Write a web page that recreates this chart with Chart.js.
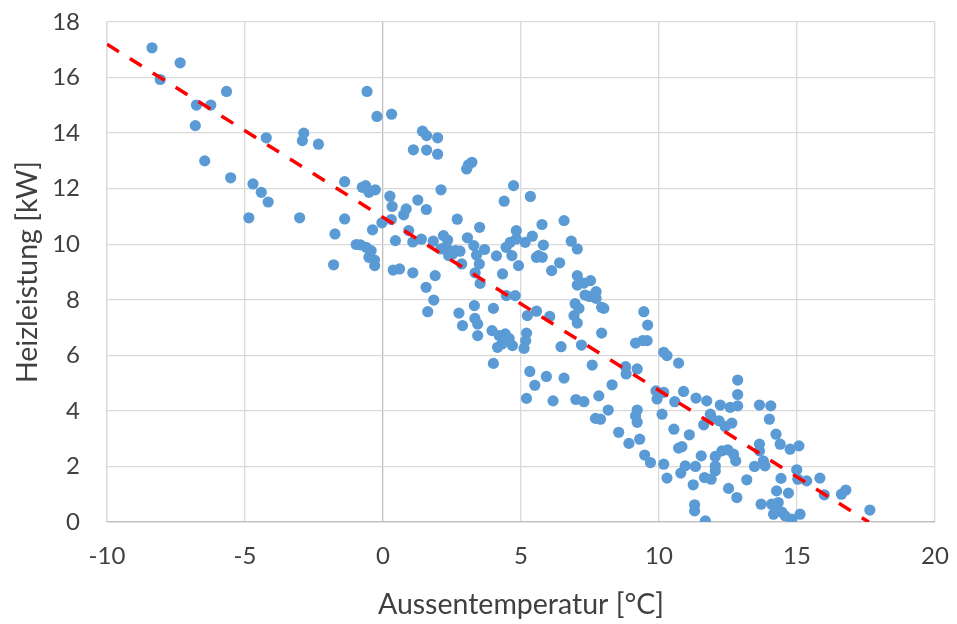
<!DOCTYPE html>
<html>
<head>
<meta charset="utf-8">
<script src="https://cdn.jsdelivr.net/npm/chart.js@4.4.0/dist/chart.umd.min.js"></script>
<style>
  html, body { margin: 0; padding: 0; background: #ffffff; }
</style>
</head>
<body>
<canvas id="myChart" width="957" height="624"></canvas>
<script>
// Aussentemperatur [°C] for each measurement
var tempX = [
  -8.37, -7.35, -8.07, -5.67, -6.76, -6.24, -6.80, -4.23, -6.46, -5.52,
  -4.71, -4.41, -4.16, -4.86, -3.02,
  -0.58, -0.22, 0.31, -2.87, -2.92, -2.34, 1.43, 1.58, 1.98, 1.10,
  1.58, 1.98, -1.39, -0.75, -0.63, -0.51, -0.28, 2.10, 0.25, 0.33,
  1.26, 0.84, 0.75, 1.57, -1.39, -1.74, -0.38, -0.04, 0.30, 0.93,
  0.45, 1.08, 1.39, 1.82, -0.97, -0.82, -0.61, -0.43, -0.51, -0.31,
  -0.30, -1.79, 0.37, 0.60, 1.08, 1.89, 1.56, 1.84, 1.62,
  3.03, 3.10, 3.22, 4.73, 4.39, 5.34, 2.69, 3.50, 6.56, 5.76,
  4.83, 2.19, 2.34, 2.26, 2.43, 2.64, 2.79, 2.38, 2.52, 2.10,
  3.06, 3.29, 3.68, 3.39, 3.49, 3.34, 2.85, 4.11, 4.33, 3.52,
  4.46, 4.61, 4.83, 4.67, 4.91, 5.15, 5.41, 5.81, 5.63, 5.77,
  5.56, 6.40, 6.11, 6.82, 7.04, 7.04, 7.04, 4.47, 4.79, 3.31,
  4.00, 2.75, 2.88, 3.33, 3.43, 3.43, 3.95, 4.21, 4.43, 4.57,
  4.15, 4.31, 4.69, 4.00, 5.23, 5.56, 6.04, 5.20, 5.17, 5.11,
  6.45, 7.04, 6.96, 5.32, 5.50, 5.92, 6.56, 5.20, 6.16, 6.99,
  7.28, 7.52, 7.32, 7.48, 7.72, 7.72, 7.10, 6.92, 7.92, 8.00,
  9.45, 9.59, 7.92, 7.19, 9.15, 9.41, 9.57, 10.17, 10.29, 10.71,
  7.58, 8.79, 8.81, 9.21, 8.30, 7.82, 7.28, 8.16, 7.70, 7.88,
  9.21, 9.15, 9.21, 8.54, 8.91, 9.30, 9.48, 9.69, 10.17, 9.89,
  10.17, 9.93, 10.57, 10.89, 10.11, 10.54, 11.10, 10.71, 10.83, 11.53,
  11.34, 11.73, 11.86, 11.62, 10.95, 11.32,
  12.85, 12.85, 12.22, 12.58, 12.85, 13.64, 14.05, 14.00, 11.89, 12.18,
  12.40, 12.64, 14.24, 14.39, 14.75, 15.07, 13.64, 13.64, 12.04, 12.28,
  12.49, 12.70, 12.78, 12.04, 12.04, 11.65, 11.89, 13.18, 13.46, 13.78,
  13.84, 14.42, 14.99, 15.03, 15.35, 14.26, 14.69, 12.52, 12.82, 13.70,
  14.08, 14.32, 14.26, 14.45, 14.15, 14.57, 14.81, 15.11, 11.68, 11.29,
  11.29, 15.83, 15.99, 16.61, 16.77, 17.64, 10.29, 10.79, 11.24
];

// Heizleistung [kW] for each measurement
var heatY = [
  17.07, 16.53, 15.93, 15.50, 15.01, 15.01, 14.27, 13.83, 13.00, 12.39,
  12.17, 11.87, 11.52, 10.95, 10.95,
  15.50, 14.60, 14.68, 14.00, 13.73, 13.60, 14.07, 13.91, 13.83, 13.40,
  13.39, 13.24, 12.25, 12.05, 12.11, 11.87, 11.96, 11.96, 11.73, 11.36,
  11.59, 11.27, 11.06, 11.25, 10.91, 10.37, 10.52, 10.77, 10.89, 10.49,
  10.13, 10.08, 10.18, 10.11, 9.99, 9.98, 9.89, 9.77, 9.53, 9.43,
  9.23, 9.26, 9.07, 9.11, 8.97, 8.87, 8.45, 7.99, 7.57,
  12.71, 12.86, 12.95, 12.11, 11.55, 11.72, 10.90, 10.61, 10.85, 10.71,
  10.49, 10.31, 10.15, 9.89, 9.77, 9.77, 9.75, 9.59, 9.65, 9.83,
  10.23, 9.95, 9.81, 9.61, 9.29, 8.97, 9.29, 9.58, 8.93, 8.59,
  9.89, 10.07, 10.19, 9.59, 9.23, 10.07, 10.29, 9.97, 9.59, 9.53,
  9.53, 9.33, 9.05, 10.11, 9.83, 8.87, 8.53, 8.15, 8.15, 7.79,
  7.69, 7.52, 7.07, 7.33, 7.13, 6.71, 6.89, 6.71, 6.77, 6.61,
  6.29, 6.41, 6.35, 5.71, 7.43, 7.59, 7.40, 6.80, 6.53, 6.25,
  6.31, 7.16, 7.86, 5.42, 4.92, 5.24, 5.18, 4.45, 4.36, 4.41,
  8.60, 8.69, 8.17, 8.12, 8.29, 8.05, 7.69, 7.43, 7.73, 7.69,
  7.57, 7.09, 6.80, 6.37, 6.44, 6.53, 6.53, 6.11, 5.99, 5.72,
  5.65, 5.59, 5.33, 5.51, 4.94, 4.54, 4.33, 4.03, 3.73, 3.70,
  4.03, 3.82, 3.59, 3.23, 2.83, 2.98, 2.41, 2.14, 2.08, 4.72,
  4.67, 4.43, 4.33, 4.70, 3.88, 3.34, 3.14, 2.66, 2.71, 2.38,
  4.46, 4.36, 3.88, 3.50, 2.02, 2.00,
  5.11, 4.59, 4.21, 4.13, 4.18, 4.21, 4.18, 3.70, 3.77, 3.64,
  3.44, 3.56, 3.16, 2.80, 2.62, 2.74, 2.80, 2.56, 2.36, 2.56,
  2.60, 2.44, 2.20, 2.02, 1.84, 1.60, 1.54, 1.52, 2.00, 2.20,
  2.02, 1.57, 1.88, 1.54, 1.48, 1.12, 1.04, 1.21, 0.88, 0.64,
  0.64, 0.70, 0.40, 0.36, 0.28, 0.22, 0.10, 0.28, 0.04, 0.62,
  0.40, 1.58, 0.98, 1.00, 1.15, 0.43, 1.58, 1.76, 1.34
];

// linear trend line end points
var trendX = [-10, 17.6];
var trendY = [17.2, 0];

var xTicks = [-10, -5, 0, 5, 10, 15, 20];
var yTicks = [0, 2, 4, 6, 8, 10, 12, 14, 16, 18];

function BuildChart() {
    var points = tempX.map(function (x, i) {
        return { x: x, y: heatY[i] };
    });
    var trend = trendX.map(function (x, i) {
        return { x: x, y: trendY[i] };
    });

    var gridColor = function (ctx) {
        return (ctx.tick && ctx.tick.value === 0) ? '#bfbfbf' : '#d9d9d9';
    };

    var ctx = document.getElementById('myChart').getContext('2d');
    return new Chart(ctx, {
        type: 'scatter',
        data: {
            datasets: [{
                label: 'Heizleistung',
                data: points,
                backgroundColor: '#5b9bd5',
                borderColor: '#5b9bd5',
                borderWidth: 0,
                pointRadius: 5.6,
                pointHoverRadius: 5.6,
                order: 2
            }, {
                label: 'Trend',
                type: 'line',
                data: trend,
                borderColor: '#ff0000',
                borderWidth: 3.5,
                borderDash: [14, 13],
                pointRadius: 0,
                fill: false,
                order: 1
            }]
        },
        options: {
            responsive: false,
            animation: false,
            layout: { padding: { left: 0, right: 22, top: 22, bottom: 0 } },
            plugins: {
                legend: { display: false },
                tooltip: { enabled: false }
            },
            scales: {
                x: {
                    type: 'linear',
                    min: -10,
                    max: 20,
                    afterBuildTicks: function (s) {
                        s.ticks = xTicks.map(function (v) { return { value: v }; });
                    },
                    afterFit: function (s) {
                        s.height = 102;
                        s.paddingLeft = 0;
                        s.paddingRight = 0;
                    },
                    grid: { color: gridColor, lineWidth: 1.3, drawTicks: false },
                    border: { display: true, color: '#bfbfbf', width: 1.3 },
                    ticks: {
                        padding: 20,
                        color: '#404040',
                        font: { family: 'Lato', size: 24 },
                        maxRotation: 0
                    },
                    title: {
                        display: true,
                        text: 'Aussentemperatur [°C]',
                        color: '#404040',
                        font: { family: 'Lato', size: 28.5 },
                        padding: { top: 0, bottom: 2 }
                    }
                },
                y: {
                    type: 'linear',
                    min: 0,
                    max: 18,
                    afterBuildTicks: function (s) {
                        s.ticks = yTicks.map(function (v) { return { value: v }; });
                    },
                    afterFit: function (s) {
                        s.width = 107;
                        s.paddingTop = 0;
                        s.paddingBottom = 0;
                    },
                    grid: { color: gridColor, lineWidth: 1.3, drawTicks: false },
                    border: { display: true, color: '#d9d9d9', width: 1.3 },
                    ticks: {
                        padding: 27,
                        color: '#404040',
                        font: { family: 'Lato', size: 24 }
                    },
                    title: {
                        display: true,
                        text: 'Heizleistung [kW]',
                        color: '#404040',
                        font: { family: 'Lato', size: 28.5 },
                        padding: { top: 11, bottom: 0 }
                    }
                }
            }
        }
    });
}

window.onload = function () {
    BuildChart();
};
</script>
</body>
</html>
